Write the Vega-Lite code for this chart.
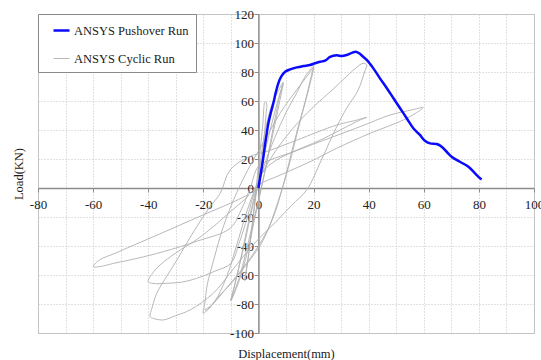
{
  "$schema": "https://vega.github.io/schema/vega-lite/v6.json",
  "autosize": {"type": "none"},
  "width": 496,
  "height": 319,
  "padding": {"left": 38, "top": 14, "right": 7, "bottom": 27},
  "background": "white",
  "config": {
    "view": {"stroke": "#c4c4c4", "strokeWidth": 1},
    "axis": {
      "labelFont": "Liberation Serif",
      "labelFontSize": 13,
      "labelColor": "#222222",
      "titleFont": "Liberation Serif",
      "titleFontSize": 12.5,
      "titleFontWeight": "normal",
      "titleColor": "#1a1a1a",
      "domainColor": "#8c8c8c",
      "domainWidth": 1.5,
      "tickColor": "#8c8c8c",
      "tickWidth": 1,
      "tickSize": 4,
      "grid": true,
      "gridColor": "#c2c2c2",
      "gridDash": [1, 2],
      "gridWidth": 1,
      "labelOverlap": false,
      "labelFlush": false,
      "labelBound": false
    }
  },
  "data": {
    "values": [
      {"series": "ANSYS Cyclic Run", "i": 1, "x": 0, "y": 0},
      {"series": "ANSYS Cyclic Run", "i": 2, "x": 1.2, "y": 18},
      {"series": "ANSYS Cyclic Run", "i": 3, "x": 2.2, "y": 38},
      {"series": "ANSYS Cyclic Run", "i": 4, "x": 2.8, "y": 52},
      {"series": "ANSYS Cyclic Run", "i": 5, "x": 3, "y": 58},
      {"series": "ANSYS Cyclic Run", "i": 6, "x": 2.4, "y": 59.5},
      {"series": "ANSYS Cyclic Run", "i": 7, "x": 1.5, "y": 42},
      {"series": "ANSYS Cyclic Run", "i": 8, "x": 0, "y": 15},
      {"series": "ANSYS Cyclic Run", "i": 9, "x": -1.5, "y": -12},
      {"series": "ANSYS Cyclic Run", "i": 10, "x": -3, "y": -38},
      {"series": "ANSYS Cyclic Run", "i": 11, "x": -4.5, "y": -58},
      {"series": "ANSYS Cyclic Run", "i": 12, "x": -5, "y": -64},
      {"series": "ANSYS Cyclic Run", "i": 13, "x": -4, "y": -52},
      {"series": "ANSYS Cyclic Run", "i": 14, "x": -2, "y": -22},
      {"series": "ANSYS Cyclic Run", "i": 15, "x": 0, "y": 8},
      {"series": "ANSYS Cyclic Run", "i": 16, "x": 2.5, "y": 40},
      {"series": "ANSYS Cyclic Run", "i": 17, "x": 5, "y": 58},
      {"series": "ANSYS Cyclic Run", "i": 18, "x": 7.5, "y": 68},
      {"series": "ANSYS Cyclic Run", "i": 19, "x": 9, "y": 73},
      {"series": "ANSYS Cyclic Run", "i": 20, "x": 8, "y": 66},
      {"series": "ANSYS Cyclic Run", "i": 21, "x": 5, "y": 38},
      {"series": "ANSYS Cyclic Run", "i": 22, "x": 2, "y": 8},
      {"series": "ANSYS Cyclic Run", "i": 23, "x": -1, "y": -18},
      {"series": "ANSYS Cyclic Run", "i": 24, "x": -4, "y": -44},
      {"series": "ANSYS Cyclic Run", "i": 25, "x": -7, "y": -64},
      {"series": "ANSYS Cyclic Run", "i": 26, "x": -9.5, "y": -76},
      {"series": "ANSYS Cyclic Run", "i": 27, "x": -10, "y": -78},
      {"series": "ANSYS Cyclic Run", "i": 28, "x": -9, "y": -70},
      {"series": "ANSYS Cyclic Run", "i": 29, "x": -6, "y": -45},
      {"series": "ANSYS Cyclic Run", "i": 30, "x": -3, "y": -18},
      {"series": "ANSYS Cyclic Run", "i": 31, "x": 0.5, "y": 10},
      {"series": "ANSYS Cyclic Run", "i": 32, "x": 4, "y": 38},
      {"series": "ANSYS Cyclic Run", "i": 33, "x": 7, "y": 60},
      {"series": "ANSYS Cyclic Run", "i": 34, "x": 9, "y": 72},
      {"series": "ANSYS Cyclic Run", "i": 35, "x": 8.5, "y": 67},
      {"series": "ANSYS Cyclic Run", "i": 36, "x": 5, "y": 35},
      {"series": "ANSYS Cyclic Run", "i": 37, "x": 1, "y": 0},
      {"series": "ANSYS Cyclic Run", "i": 38, "x": -3, "y": -32},
      {"series": "ANSYS Cyclic Run", "i": 39, "x": -7, "y": -62},
      {"series": "ANSYS Cyclic Run", "i": 40, "x": -10, "y": -77},
      {"series": "ANSYS Cyclic Run", "i": 41, "x": -8.5, "y": -66},
      {"series": "ANSYS Cyclic Run", "i": 42, "x": -5, "y": -38},
      {"series": "ANSYS Cyclic Run", "i": 43, "x": -2, "y": -12},
      {"series": "ANSYS Cyclic Run", "i": 44, "x": 2, "y": 15},
      {"series": "ANSYS Cyclic Run", "i": 45, "x": 6, "y": 35},
      {"series": "ANSYS Cyclic Run", "i": 46, "x": 10, "y": 52},
      {"series": "ANSYS Cyclic Run", "i": 47, "x": 14, "y": 66},
      {"series": "ANSYS Cyclic Run", "i": 48, "x": 17, "y": 77},
      {"series": "ANSYS Cyclic Run", "i": 49, "x": 20, "y": 84},
      {"series": "ANSYS Cyclic Run", "i": 50, "x": 19.5, "y": 80},
      {"series": "ANSYS Cyclic Run", "i": 51, "x": 17, "y": 60},
      {"series": "ANSYS Cyclic Run", "i": 52, "x": 13, "y": 32},
      {"series": "ANSYS Cyclic Run", "i": 53, "x": 9, "y": 2},
      {"series": "ANSYS Cyclic Run", "i": 54, "x": 5, "y": -22},
      {"series": "ANSYS Cyclic Run", "i": 55, "x": 0, "y": -40},
      {"series": "ANSYS Cyclic Run", "i": 56, "x": -6, "y": -56},
      {"series": "ANSYS Cyclic Run", "i": 57, "x": -12, "y": -70},
      {"series": "ANSYS Cyclic Run", "i": 58, "x": -17, "y": -81},
      {"series": "ANSYS Cyclic Run", "i": 59, "x": -20, "y": -86.4},
      {"series": "ANSYS Cyclic Run", "i": 60, "x": -19.5, "y": -80},
      {"series": "ANSYS Cyclic Run", "i": 61, "x": -18.5, "y": -66},
      {"series": "ANSYS Cyclic Run", "i": 62, "x": -16, "y": -48},
      {"series": "ANSYS Cyclic Run", "i": 63, "x": -13, "y": -28},
      {"series": "ANSYS Cyclic Run", "i": 64, "x": -9, "y": -8},
      {"series": "ANSYS Cyclic Run", "i": 65, "x": -4, "y": 12},
      {"series": "ANSYS Cyclic Run", "i": 66, "x": 2, "y": 32},
      {"series": "ANSYS Cyclic Run", "i": 67, "x": 8, "y": 52},
      {"series": "ANSYS Cyclic Run", "i": 68, "x": 14, "y": 68},
      {"series": "ANSYS Cyclic Run", "i": 69, "x": 18, "y": 78},
      {"series": "ANSYS Cyclic Run", "i": 70, "x": 20, "y": 83},
      {"series": "ANSYS Cyclic Run", "i": 71, "x": 19, "y": 74},
      {"series": "ANSYS Cyclic Run", "i": 72, "x": 15, "y": 45},
      {"series": "ANSYS Cyclic Run", "i": 73, "x": 11, "y": 15},
      {"series": "ANSYS Cyclic Run", "i": 74, "x": 7, "y": -10},
      {"series": "ANSYS Cyclic Run", "i": 75, "x": 2, "y": -35},
      {"series": "ANSYS Cyclic Run", "i": 76, "x": -4, "y": -52},
      {"series": "ANSYS Cyclic Run", "i": 77, "x": -10, "y": -66},
      {"series": "ANSYS Cyclic Run", "i": 78, "x": -15, "y": -76},
      {"series": "ANSYS Cyclic Run", "i": 79, "x": -18.5, "y": -84},
      {"series": "ANSYS Cyclic Run", "i": 80, "x": -19.5, "y": -84},
      {"series": "ANSYS Cyclic Run", "i": 81, "x": -16.5, "y": -80},
      {"series": "ANSYS Cyclic Run", "i": 82, "x": -11.5, "y": -61},
      {"series": "ANSYS Cyclic Run", "i": 83, "x": -8, "y": -40},
      {"series": "ANSYS Cyclic Run", "i": 84, "x": -4, "y": -15},
      {"series": "ANSYS Cyclic Run", "i": 85, "x": 0, "y": 5},
      {"series": "ANSYS Cyclic Run", "i": 86, "x": 5, "y": 22},
      {"series": "ANSYS Cyclic Run", "i": 87, "x": 12, "y": 40},
      {"series": "ANSYS Cyclic Run", "i": 88, "x": 20, "y": 56},
      {"series": "ANSYS Cyclic Run", "i": 89, "x": 27, "y": 68},
      {"series": "ANSYS Cyclic Run", "i": 90, "x": 32, "y": 77},
      {"series": "ANSYS Cyclic Run", "i": 91, "x": 35.5, "y": 83},
      {"series": "ANSYS Cyclic Run", "i": 92, "x": 38, "y": 86},
      {"series": "ANSYS Cyclic Run", "i": 93, "x": 39.3, "y": 85},
      {"series": "ANSYS Cyclic Run", "i": 94, "x": 38.5, "y": 80},
      {"series": "ANSYS Cyclic Run", "i": 95, "x": 36.2, "y": 67.6},
      {"series": "ANSYS Cyclic Run", "i": 96, "x": 32, "y": 55},
      {"series": "ANSYS Cyclic Run", "i": 97, "x": 28.4, "y": 42.3},
      {"series": "ANSYS Cyclic Run", "i": 98, "x": 23, "y": 20},
      {"series": "ANSYS Cyclic Run", "i": 99, "x": 17.5, "y": -1.4},
      {"series": "ANSYS Cyclic Run", "i": 100, "x": 12, "y": -12},
      {"series": "ANSYS Cyclic Run", "i": 101, "x": 6, "y": -24},
      {"series": "ANSYS Cyclic Run", "i": 102, "x": 0.6, "y": -34},
      {"series": "ANSYS Cyclic Run", "i": 103, "x": -5, "y": -46},
      {"series": "ANSYS Cyclic Run", "i": 104, "x": -10, "y": -58},
      {"series": "ANSYS Cyclic Run", "i": 105, "x": -16.4, "y": -72.6},
      {"series": "ANSYS Cyclic Run", "i": 106, "x": -24.8, "y": -84.1},
      {"series": "ANSYS Cyclic Run", "i": 107, "x": -30, "y": -88},
      {"series": "ANSYS Cyclic Run", "i": 108, "x": -34.5, "y": -91},
      {"series": "ANSYS Cyclic Run", "i": 109, "x": -38, "y": -90},
      {"series": "ANSYS Cyclic Run", "i": 110, "x": -39.3, "y": -88.8},
      {"series": "ANSYS Cyclic Run", "i": 111, "x": -38.5, "y": -82},
      {"series": "ANSYS Cyclic Run", "i": 112, "x": -36.9, "y": -72.6},
      {"series": "ANSYS Cyclic Run", "i": 113, "x": -33, "y": -60},
      {"series": "ANSYS Cyclic Run", "i": 114, "x": -29.6, "y": -49.7},
      {"series": "ANSYS Cyclic Run", "i": 115, "x": -26, "y": -38},
      {"series": "ANSYS Cyclic Run", "i": 116, "x": -22.4, "y": -26.7},
      {"series": "ANSYS Cyclic Run", "i": 117, "x": -18, "y": -14},
      {"series": "ANSYS Cyclic Run", "i": 118, "x": -13.9, "y": -3.7},
      {"series": "ANSYS Cyclic Run", "i": 119, "x": -10.3, "y": 12.4},
      {"series": "ANSYS Cyclic Run", "i": 120, "x": -4, "y": 21},
      {"series": "ANSYS Cyclic Run", "i": 121, "x": 4.2, "y": 26},
      {"series": "ANSYS Cyclic Run", "i": 122, "x": 13.9, "y": 33},
      {"series": "ANSYS Cyclic Run", "i": 123, "x": 28.4, "y": 43.4},
      {"series": "ANSYS Cyclic Run", "i": 124, "x": 35, "y": 46.5},
      {"series": "ANSYS Cyclic Run", "i": 125, "x": 39.3, "y": 48.7},
      {"series": "ANSYS Cyclic Run", "i": 126, "x": 37, "y": 47},
      {"series": "ANSYS Cyclic Run", "i": 127, "x": 34.4, "y": 44.6},
      {"series": "ANSYS Cyclic Run", "i": 128, "x": 22.4, "y": 33},
      {"series": "ANSYS Cyclic Run", "i": 129, "x": 12, "y": 24.5},
      {"series": "ANSYS Cyclic Run", "i": 130, "x": 6.6, "y": 19.3},
      {"series": "ANSYS Cyclic Run", "i": 131, "x": 2, "y": 12},
      {"series": "ANSYS Cyclic Run", "i": 132, "x": -1, "y": 0},
      {"series": "ANSYS Cyclic Run", "i": 133, "x": -4, "y": -20},
      {"series": "ANSYS Cyclic Run", "i": 134, "x": -7, "y": -38},
      {"series": "ANSYS Cyclic Run", "i": 135, "x": -10, "y": -52},
      {"series": "ANSYS Cyclic Run", "i": 136, "x": -16, "y": -57.5},
      {"series": "ANSYS Cyclic Run", "i": 137, "x": -22.4, "y": -62.3},
      {"series": "ANSYS Cyclic Run", "i": 138, "x": -28, "y": -65},
      {"series": "ANSYS Cyclic Run", "i": 139, "x": -33.3, "y": -65.7},
      {"series": "ANSYS Cyclic Run", "i": 140, "x": -37, "y": -66},
      {"series": "ANSYS Cyclic Run", "i": 141, "x": -40, "y": -64.6},
      {"series": "ANSYS Cyclic Run", "i": 142, "x": -38.5, "y": -59},
      {"series": "ANSYS Cyclic Run", "i": 143, "x": -35.7, "y": -53.1},
      {"series": "ANSYS Cyclic Run", "i": 144, "x": -32, "y": -47.5},
      {"series": "ANSYS Cyclic Run", "i": 145, "x": -28.4, "y": -42.8},
      {"series": "ANSYS Cyclic Run", "i": 146, "x": -22, "y": -35},
      {"series": "ANSYS Cyclic Run", "i": 147, "x": -16.4, "y": -26.7},
      {"series": "ANSYS Cyclic Run", "i": 148, "x": -10, "y": -16},
      {"series": "ANSYS Cyclic Run", "i": 149, "x": -5, "y": -8},
      {"series": "ANSYS Cyclic Run", "i": 150, "x": 0, "y": 2},
      {"series": "ANSYS Cyclic Run", "i": 151, "x": 8, "y": 9},
      {"series": "ANSYS Cyclic Run", "i": 152, "x": 18.7, "y": 18.1},
      {"series": "ANSYS Cyclic Run", "i": 153, "x": 28.4, "y": 27.4},
      {"series": "ANSYS Cyclic Run", "i": 154, "x": 40.5, "y": 37.7},
      {"series": "ANSYS Cyclic Run", "i": 155, "x": 47, "y": 42.5},
      {"series": "ANSYS Cyclic Run", "i": 156, "x": 52.6, "y": 46.9},
      {"series": "ANSYS Cyclic Run", "i": 157, "x": 57, "y": 51.5},
      {"series": "ANSYS Cyclic Run", "i": 158, "x": 59.8, "y": 55.5},
      {"series": "ANSYS Cyclic Run", "i": 159, "x": 56, "y": 54},
      {"series": "ANSYS Cyclic Run", "i": 160, "x": 47.7, "y": 50.3},
      {"series": "ANSYS Cyclic Run", "i": 161, "x": 36.9, "y": 42.3},
      {"series": "ANSYS Cyclic Run", "i": 162, "x": 22.4, "y": 32},
      {"series": "ANSYS Cyclic Run", "i": 163, "x": 12, "y": 24.5},
      {"series": "ANSYS Cyclic Run", "i": 164, "x": 4.2, "y": 19.3},
      {"series": "ANSYS Cyclic Run", "i": 165, "x": 0, "y": 15},
      {"series": "ANSYS Cyclic Run", "i": 166, "x": -3, "y": 0},
      {"series": "ANSYS Cyclic Run", "i": 167, "x": -6, "y": -14},
      {"series": "ANSYS Cyclic Run", "i": 168, "x": -10.3, "y": -27.8},
      {"series": "ANSYS Cyclic Run", "i": 169, "x": -22, "y": -36.5},
      {"series": "ANSYS Cyclic Run", "i": 170, "x": -34.5, "y": -43.9},
      {"series": "ANSYS Cyclic Run", "i": 171, "x": -44, "y": -48.5},
      {"series": "ANSYS Cyclic Run", "i": 172, "x": -52.6, "y": -52},
      {"series": "ANSYS Cyclic Run", "i": 173, "x": -57, "y": -54},
      {"series": "ANSYS Cyclic Run", "i": 174, "x": -59.9, "y": -54.3},
      {"series": "ANSYS Cyclic Run", "i": 175, "x": -58, "y": -50},
      {"series": "ANSYS Cyclic Run", "i": 176, "x": -52, "y": -45},
      {"series": "ANSYS Cyclic Run", "i": 177, "x": -46.6, "y": -40.5},
      {"series": "ANSYS Cyclic Run", "i": 178, "x": -38, "y": -33.5},
      {"series": "ANSYS Cyclic Run", "i": 179, "x": -28.4, "y": -25.5},
      {"series": "ANSYS Cyclic Run", "i": 180, "x": -20, "y": -18.5},
      {"series": "ANSYS Cyclic Run", "i": 181, "x": -10.3, "y": -10.6},
      {"series": "ANSYS Cyclic Run", "i": 182, "x": -4, "y": -5},
      {"series": "ANSYS Pushover Run", "i": 1, "x": 0, "y": 0},
      {"series": "ANSYS Pushover Run", "i": 2, "x": 0.6, "y": 7},
      {"series": "ANSYS Pushover Run", "i": 3, "x": 1.2, "y": 14},
      {"series": "ANSYS Pushover Run", "i": 4, "x": 1.8, "y": 21.6},
      {"series": "ANSYS Pushover Run", "i": 5, "x": 2.4, "y": 30},
      {"series": "ANSYS Pushover Run", "i": 6, "x": 3, "y": 37.7},
      {"series": "ANSYS Pushover Run", "i": 7, "x": 3.6, "y": 44.6},
      {"series": "ANSYS Pushover Run", "i": 8, "x": 4.5, "y": 52},
      {"series": "ANSYS Pushover Run", "i": 9, "x": 5.4, "y": 58.4},
      {"series": "ANSYS Pushover Run", "i": 10, "x": 6.3, "y": 66},
      {"series": "ANSYS Pushover Run", "i": 11, "x": 7.2, "y": 72.2},
      {"series": "ANSYS Pushover Run", "i": 12, "x": 8.3, "y": 77},
      {"series": "ANSYS Pushover Run", "i": 13, "x": 9.7, "y": 80.2},
      {"series": "ANSYS Pushover Run", "i": 14, "x": 11.5, "y": 81.8},
      {"series": "ANSYS Pushover Run", "i": 15, "x": 13.9, "y": 83.2},
      {"series": "ANSYS Pushover Run", "i": 16, "x": 16.3, "y": 84.1},
      {"series": "ANSYS Pushover Run", "i": 17, "x": 18.7, "y": 84.8},
      {"series": "ANSYS Pushover Run", "i": 18, "x": 20.5, "y": 86},
      {"series": "ANSYS Pushover Run", "i": 19, "x": 22.4, "y": 87.1},
      {"series": "ANSYS Pushover Run", "i": 20, "x": 24.2, "y": 87.8},
      {"series": "ANSYS Pushover Run", "i": 21, "x": 26, "y": 90.4},
      {"series": "ANSYS Pushover Run", "i": 22, "x": 28.4, "y": 91.5},
      {"series": "ANSYS Pushover Run", "i": 23, "x": 30.2, "y": 91},
      {"series": "ANSYS Pushover Run", "i": 24, "x": 32, "y": 91.7},
      {"series": "ANSYS Pushover Run", "i": 25, "x": 33.9, "y": 93.2},
      {"series": "ANSYS Pushover Run", "i": 26, "x": 35.4, "y": 94},
      {"series": "ANSYS Pushover Run", "i": 27, "x": 36.9, "y": 92.4},
      {"series": "ANSYS Pushover Run", "i": 28, "x": 38, "y": 90.5},
      {"series": "ANSYS Pushover Run", "i": 29, "x": 39.3, "y": 88.3},
      {"series": "ANSYS Pushover Run", "i": 30, "x": 41.7, "y": 82.5},
      {"series": "ANSYS Pushover Run", "i": 31, "x": 44.1, "y": 75.6},
      {"series": "ANSYS Pushover Run", "i": 32, "x": 46.6, "y": 68.8},
      {"series": "ANSYS Pushover Run", "i": 33, "x": 49, "y": 61.9},
      {"series": "ANSYS Pushover Run", "i": 34, "x": 51.4, "y": 55},
      {"series": "ANSYS Pushover Run", "i": 35, "x": 53.8, "y": 48.1},
      {"series": "ANSYS Pushover Run", "i": 36, "x": 56.2, "y": 41.2},
      {"series": "ANSYS Pushover Run", "i": 37, "x": 58.6, "y": 36.6},
      {"series": "ANSYS Pushover Run", "i": 38, "x": 60.4, "y": 32.6},
      {"series": "ANSYS Pushover Run", "i": 39, "x": 62.3, "y": 30.8},
      {"series": "ANSYS Pushover Run", "i": 40, "x": 64.7, "y": 30.3},
      {"series": "ANSYS Pushover Run", "i": 41, "x": 66.5, "y": 28.5},
      {"series": "ANSYS Pushover Run", "i": 42, "x": 68.3, "y": 25},
      {"series": "ANSYS Pushover Run", "i": 43, "x": 70.1, "y": 21.6},
      {"series": "ANSYS Pushover Run", "i": 44, "x": 73.1, "y": 18.1},
      {"series": "ANSYS Pushover Run", "i": 45, "x": 76.2, "y": 14.7},
      {"series": "ANSYS Pushover Run", "i": 46, "x": 78.6, "y": 10.1},
      {"series": "ANSYS Pushover Run", "i": 47, "x": 80.4, "y": 6.7},
      {"series": "ANSYS Pushover Run", "i": 48, "x": 81, "y": 6}
    ]
  },
  "mark": {"type": "line", "interpolate": "catmull-rom"},
  "encoding": {
    "x": {
      "field": "x",
      "type": "quantitative",
      "scale": {"domain": [-80, 100], "nice": false, "zero": false},
      "axis": {
        "values": [-80, -70, -60, -50, -40, -30, -20, -10, 0, 10, 20, 30, 40, 50, 60, 70, 80, 90, 100],
        "offset": -145,
        "labelFont": "Liberation Serif",
        "labelExpr": "datum.value % 20 === 0 ? toString(datum.value) : ''",
        "tickOpacity": {"condition": {"test": "datum.value % 20 !== 0", "value": 0}, "value": 1},
        "labelPadding": 6,
        "title": "Displacement(mm)",
        "titleX": 248,
        "titleY": 169.5,
        "titleAlign": "center",
        "titleBaseline": "alphabetic",
        "titleAnchor": null
      }
    },
    "y": {
      "field": "y",
      "type": "quantitative",
      "scale": {"domain": [-100, 120], "nice": false, "zero": false},
      "axis": {
        "values": [-100, -80, -60, -40, -20, 0, 20, 40, 60, 80, 100, 120],
        "offset": -220.4,
        "labelFont": "Liberation Serif",
        "labelExpr": "toString(datum.value)",
        "labelPadding": 1,
        "title": "Load(KN)",
        "titleX": -240,
        "titleY": 159.5,
        "titleAngle": -90,
        "titleAlign": "center",
        "titleBaseline": "middle"
      }
    },
    "color": {
      "field": "series",
      "type": "nominal",
      "scale": {"domain": ["ANSYS Pushover Run", "ANSYS Cyclic Run"], "range": ["#0a0aff", "#b0b0b0"]},
      "legend": {
        "orient": "none",
        "legendX": 0,
        "legendY": 0,
        "title": null,
        "strokeColor": "#8a8a8a",
        "fillColor": "white",
        "padding": 7,
        "symbolType": "stroke",
        "symbolSize": 256,
        "symbolOffset": 7,
        "rowPadding": 13,
        "labelOffset": 3,
        "labelFont": "Liberation Serif",
        "labelFontSize": 12.5,
        "labelColor": "#1a1a1a"
      }
    },
    "strokeWidth": {
      "field": "series",
      "type": "nominal",
      "scale": {"domain": ["ANSYS Pushover Run", "ANSYS Cyclic Run"], "range": [2.5, 0.9]},
      "legend": {
        "orient": "none",
        "legendX": 0,
        "legendY": 0,
        "title": null,
        "strokeColor": "#8a8a8a",
        "fillColor": "white",
        "padding": 7,
        "symbolType": "stroke",
        "symbolSize": 256,
        "symbolOffset": 7,
        "rowPadding": 13,
        "labelOffset": 3,
        "labelFont": "Liberation Serif",
        "labelFontSize": 12.5,
        "labelColor": "#1a1a1a"
      }
    },
    "order": {"field": "i", "type": "quantitative"}
  }
}
